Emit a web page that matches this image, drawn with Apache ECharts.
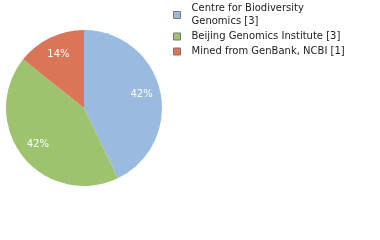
<!DOCTYPE html>
<html>
<head>
<meta charset="utf-8">
<script src="https://cdn.jsdelivr.net/npm/echarts@6/dist/echarts.min.js"></script>
<style>
  html, body { margin: 0; padding: 0; background: #fff; }
  #chart { width: 380px; height: 240px; }
</style>
</head>
<body>
<div id="chart"></div>
<script>
  // institutions and their record counts
  var names = ['Centre for Biodiversity\nGenomics [3]', 'Beijing Genomics Institute [3]', 'Mined from GenBank, NCBI [1]']
  var counts = [3, 3, 1]
  var colors = ['#9bbadf', '#9dc36f', '#da7558']

  var chart = echarts.init(document.getElementById('chart'))

  var pieData = names.map(function (n, i) {
    return { name: n, value: counts[i], itemStyle: { color: colors[i] } }
  })

  chart.setOption({
    animation: false,
    legend: {
      orient: 'vertical',
      left: 173,
      top: 2,
      padding: 0,
      itemWidth: 7,
      itemHeight: 7,
      itemGap: 2,
      icon: 'rect',
      itemStyle: { borderColor: '#777', borderWidth: 1 },
      textStyle: { fontFamily: 'DejaVu Sans', fontSize: 10, color: '#222', lineHeight: 13, padding: [0, 0, 0, 6] },
      data: names,
      selectedMode: false
    },
    series: [
      {
        type: 'pie',
        center: [84, 108],
        radius: [0, 78],
        startAngle: 90,
        silent: true,
        label: { show: false },
        labelLine: { show: false },
        data: pieData
      },
      {
        // label ring, sits over the pie so labels land further out
        type: 'pie',
        center: [84, 108],
        radius: [34, 78],
        startAngle: 90,
        silent: true,
        itemStyle: { color: 'transparent' },
        label: {
          show: true,
          position: 'inside',
          color: '#fff',
          fontFamily: 'DejaVu Sans',
          fontSize: 10,
          formatter: function (p) {
            return Math.floor(p.percent) + '%'
          }
        },
        labelLine: { show: false },
        data: counts.map(function (v, i) { return { name: 'l' + i, value: v } })
      }
    ]
  })
</script>
</body>
</html>
